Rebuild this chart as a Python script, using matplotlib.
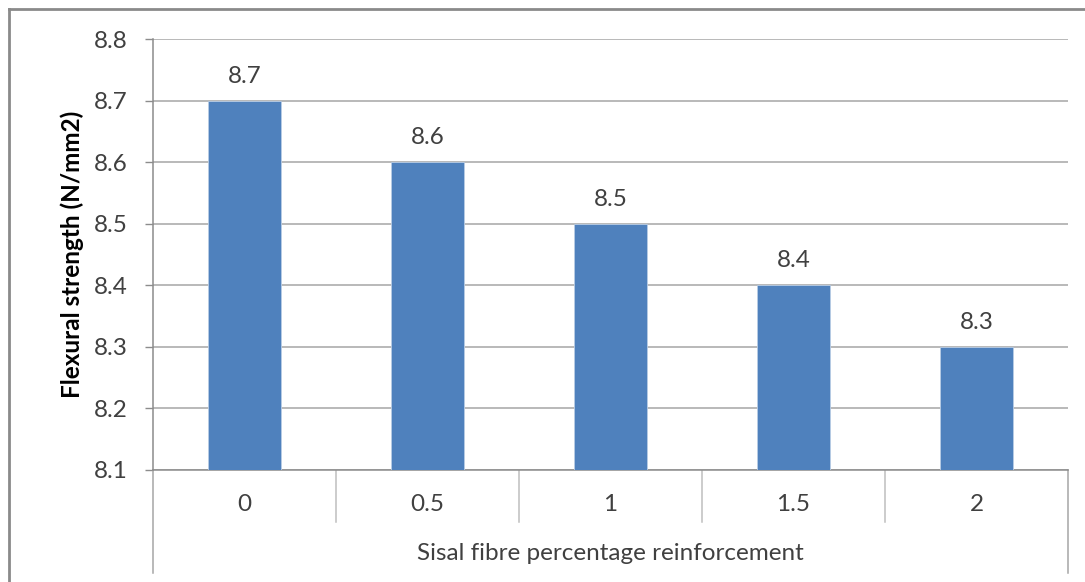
import matplotlib
matplotlib.use("Agg")
import matplotlib.pyplot as plt
from matplotlib.lines import Line2D
from matplotlib import transforms

# Flexural strength versus sisal fibre content
categories = ["0", "0.5", "1", "1.5", "2"]
strength = [8.7, 8.6, 8.5, 8.4, 8.3]
y_ticks = [8.1, 8.2, 8.3, 8.4, 8.5, 8.6, 8.7, 8.8]
y_label = "Flexural strength (N/mm2)"
x_label = "Sisal fibre percentage reinforcement"

plt.rcParams["font.family"] = ["Lato", "DejaVu Sans"]

W, H = 1085, 582
fig = plt.figure(figsize=(W / 100, H / 100), dpi=100)
fig.patch.set_facecolor("white")

left, right, top, bottom = 153, 1068, 39, 470
ax = fig.add_axes([left / W, 1 - bottom / H, (right - left) / W, (bottom - top) / H])

grid_c = "#a6a6a6"
axis_c = "#8c8c8c"
text_c = "#404040"
fs = 17.5

x = list(range(len(categories)))
ax.bar(x, [v - y_ticks[0] for v in strength], bottom=y_ticks[0], width=0.40,
       color="#4f81bd", edgecolor="#b9cde5", linewidth=0.6, zorder=3)

for xi, v in zip(x, strength):
    ax.annotate(f"{v}", (xi, v), xytext=(0, 13), textcoords="offset points",
                ha="center", va="baseline", fontsize=fs, color=text_c, zorder=4)

ax.set_xlim(-0.5, len(categories) - 0.5)
ax.set_ylim(y_ticks[0], y_ticks[-1])
ax.set_yticks(y_ticks)
ax.set_yticklabels([f"{t:.1f}" for t in y_ticks])
ax.set_xticks(x)
ax.set_xticklabels(categories)

ax.yaxis.grid(True, color=grid_c, linewidth=1.1, zorder=0)
ax.set_axisbelow(True)

for s in ("top", "right"):
    ax.spines[s].set_visible(False)
ax.spines["left"].set_color(axis_c)
ax.spines["left"].set_linewidth(1.1)
ax.spines["bottom"].set_color(axis_c)
ax.spines["bottom"].set_linewidth(1.1)

ax.tick_params(axis="y", length=6, width=1.0, color=axis_c, pad=12,
               labelsize=fs, labelcolor=text_c)
ax.tick_params(axis="x", length=0, pad=17, labelsize=fs, labelcolor=text_c)

# category table lines below the plot
blend = transforms.blended_transform_factory(ax.transData, ax.transAxes)
ph = bottom - top
sep_y = -(522 - bottom) / ph
end_y = -(573 - bottom) / ph
for b in [i + 0.5 for i in range(len(categories) - 1)]:
    ax.add_line(Line2D([b, b], [0, sep_y], transform=blend, color="#bfbfbf",
                       linewidth=1.1, clip_on=False))
for b in (-0.5, len(categories) - 0.5):
    ax.add_line(Line2D([b, b], [0, end_y], transform=blend, color=grid_c,
                       linewidth=1.1, clip_on=False))

ax.set_ylabel(y_label, fontsize=fs, fontweight="bold", color="black")
ax.yaxis.set_label_coords(-(left - 84) / (right - left), 0.5)
fig.text((left + right) / 2 / W, 1 - 554 / H, x_label, ha="center", va="center",
         fontsize=fs, color=text_c)

# outer chart frame
fig.add_artist(Line2D([9 / W, 1], [1 - 9 / H, 1 - 9 / H], transform=fig.transFigure,
                      color="#8a8a8a", linewidth=2.0))
fig.add_artist(Line2D([9 / W, 9 / W], [0, 1 - 9 / H], transform=fig.transFigure,
                      color="#8a8a8a", linewidth=2.0))

fig.savefig("out.png", dpi=100)
